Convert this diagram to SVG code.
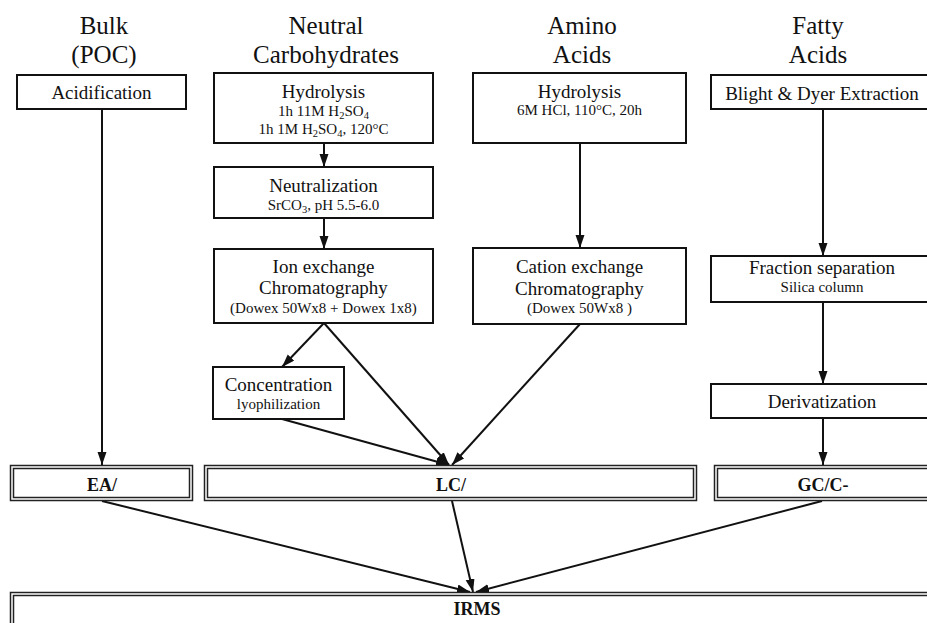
<svg xmlns="http://www.w3.org/2000/svg" width="927" height="623" viewBox="0 0 927 623">
<style>
text{font-family:"Liberation Serif","Times New Roman",serif;fill:#111;text-anchor:middle}
.title{font-size:25px}
.lbl{font-size:19px}
.sm{font-size:15px}
.bold{font-size:18px;font-weight:bold}
.box{fill:#fff;stroke:#111;stroke-width:2}
.dbl{fill:none;stroke:#222;stroke-width:1.5}
.con{stroke:#111;stroke-width:2;fill:none;marker-end:url(#ah)}
</style>
<defs>
<marker id="ah" markerUnits="userSpaceOnUse" markerWidth="14" markerHeight="10" refX="13" refY="4.5" orient="auto">
<path d="M0,0 L13,4.5 L0,9 z" fill="#111"/>
</marker>
</defs>
<rect width="927" height="623" fill="#fff"/>
<g id="titles">
<text class="title" x="104" y="34">Bulk</text>
<text class="title" x="104" y="63">(POC)</text>
<text class="title" x="326" y="34">Neutral</text>
<text class="title" x="326" y="63">Carbohydrates</text>
<text class="title" x="582" y="34">Amino</text>
<text class="title" x="582" y="63">Acids</text>
<text class="title" x="818" y="34">Fatty</text>
<text class="title" x="818" y="63">Acids</text>
</g>
<g id="connectors">
<line class="con" x1="102" y1="109" x2="102" y2="465"/>
<line class="con" x1="324" y1="143" x2="324" y2="167"/>
<line class="con" x1="324" y1="218" x2="324" y2="249"/>
<line class="con" x1="324" y1="323" x2="282" y2="367"/>
<line class="con" x1="324" y1="323" x2="449" y2="465"/>
<line class="con" x1="282" y1="419" x2="449" y2="465"/>
<line class="con" x1="580" y1="143" x2="580" y2="248"/>
<line class="con" x1="580" y1="324" x2="452" y2="465"/>
<line class="con" x1="823" y1="109" x2="823" y2="256"/>
<line class="con" x1="823" y1="302" x2="823" y2="384"/>
<line class="con" x1="823" y1="418" x2="823" y2="465"/>
<line class="con" x1="102" y1="501" x2="470" y2="592"/>
<line class="con" x1="452" y1="501" x2="473" y2="592"/>
<line class="con" x1="822" y1="501" x2="476" y2="592"/>
</g>
<g id="acidification">
<rect class="box" x="17" y="75" width="169" height="34"/>
<text class="lbl" x="101.5" y="99">Acidification</text>
</g>
<g id="carb-hydrolysis">
<rect class="box" x="214" y="73" width="219" height="70"/>
<text class="lbl" x="323.5" y="98">Hydrolysis</text>
<text class="sm" x="323.5" y="116">1h 11M H<tspan font-size="10.5" dy="3">2</tspan><tspan dy="-3">SO</tspan><tspan font-size="10.5" dy="3">4</tspan></text>
<text class="sm" x="323.5" y="134">1h 1M H<tspan font-size="10.5" dy="3">2</tspan><tspan dy="-3">SO</tspan><tspan font-size="10.5" dy="3">4</tspan><tspan dy="-3">, 120°C</tspan></text>
</g>
<g id="neutralization">
<rect class="box" x="214" y="167" width="219" height="51"/>
<text class="lbl" x="323.5" y="192">Neutralization</text>
<text class="sm" x="323.5" y="210">SrCO<tspan font-size="10.5" dy="3">3</tspan><tspan dy="-3">, pH 5.5-6.0</tspan></text>
</g>
<g id="ion-exchange">
<rect class="box" x="214" y="249" width="219" height="74"/>
<text class="lbl" x="323.5" y="273">Ion exchange</text>
<text class="lbl" x="323.5" y="294">Chromatography</text>
<text class="sm" x="323.5" y="313">(Dowex 50Wx8 + Dowex 1x8)</text>
</g>
<g id="concentration">
<rect class="box" x="213" y="367" width="131" height="52"/>
<text class="lbl" x="278.5" y="391">Concentration</text>
<text class="sm" x="278.5" y="409">lyophilization</text>
</g>
<g id="amino-hydrolysis">
<rect class="box" x="473" y="73" width="213" height="70"/>
<text class="lbl" x="579.5" y="98">Hydrolysis</text>
<text class="sm" x="579.5" y="115">6M HCl, 110°C, 20h</text>
</g>
<g id="cation-exchange">
<rect class="box" x="473" y="248" width="213" height="76"/>
<text class="lbl" x="579.5" y="273">Cation exchange</text>
<text class="lbl" x="579.5" y="295">Chromatography</text>
<text class="sm" x="579.5" y="313">(Dowex 50Wx8 )</text>
</g>
<g id="blight-dyer">
<rect class="box" x="711" y="75" width="225" height="34"/>
<text class="lbl" x="822" y="100">Blight &amp; Dyer Extraction</text>
</g>
<g id="fraction-separation">
<rect class="box" x="711" y="256" width="225" height="46"/>
<text class="lbl" x="822" y="274">Fraction separation</text>
<text class="sm" x="822" y="292">Silica column</text>
</g>
<g id="derivatization">
<rect class="box" x="711" y="384" width="225" height="34"/>
<text class="lbl" x="822" y="408">Derivatization</text>
</g>
<g id="ea">
<rect x="10" y="465" width="183" height="36" fill="#fff"/>
<rect class="dbl" x="10.5" y="465.5" width="182" height="35"/>
<rect class="dbl" x="13.5" y="468.5" width="176" height="29"/>
<text class="bold" x="102" y="491">EA/</text>
</g>
<g id="lc">
<rect x="204" y="465" width="493" height="36" fill="#fff"/>
<rect class="dbl" x="204.5" y="465.5" width="492" height="35"/>
<rect class="dbl" x="207.5" y="468.5" width="486" height="29"/>
<text class="bold" x="451" y="491">LC/</text>
</g>
<g id="gc">
<rect x="714" y="465" width="230" height="36" fill="#fff"/>
<rect class="dbl" x="714.5" y="465.5" width="230" height="35"/>
<rect class="dbl" x="717.5" y="468.5" width="224" height="29"/>
<text class="bold" x="823" y="491">GC/C-</text>
</g>
<g id="irms">
<rect x="10" y="592" width="940" height="40" fill="#fff"/>
<rect class="dbl" x="10.5" y="592.5" width="940" height="40"/>
<rect class="dbl" x="13.5" y="595.5" width="934" height="34"/>
<text class="bold" x="477" y="615">IRMS</text>
</g>
</svg>
